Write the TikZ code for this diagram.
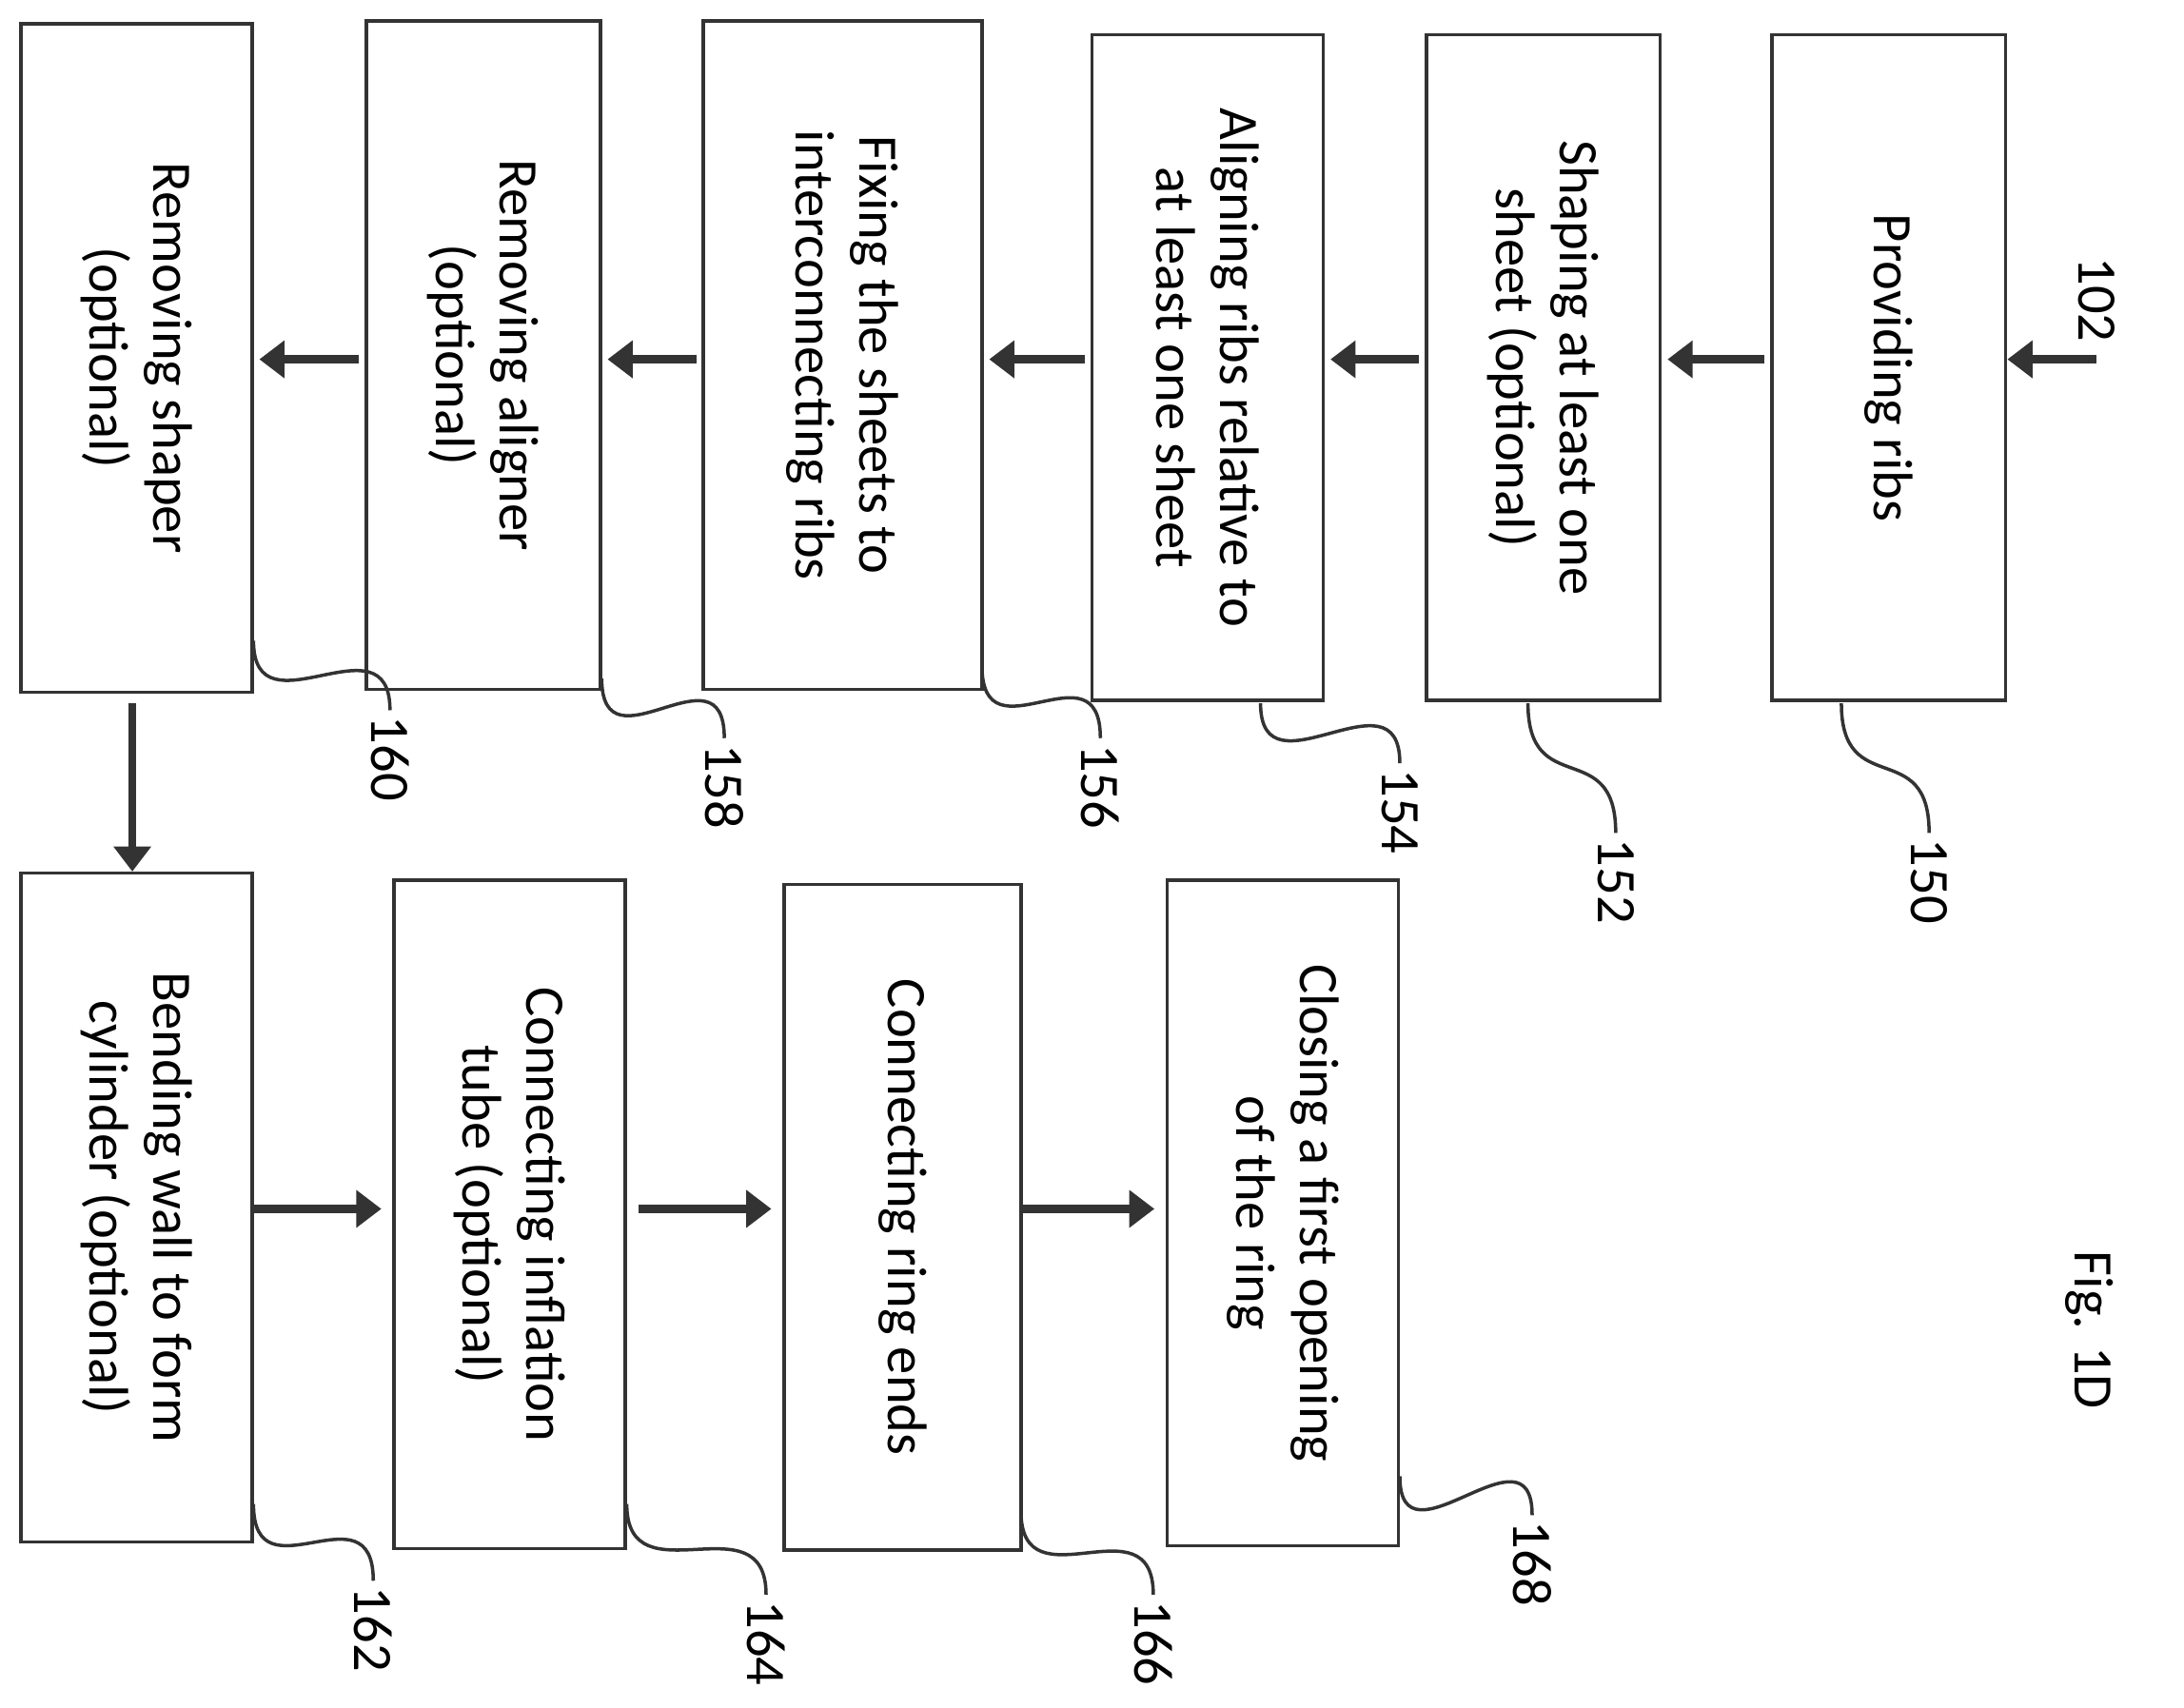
\documentclass[tikz,border=0pt]{standalone}
\usepackage{fontspec}
\setmainfont{Carlito}
\usetikzlibrary{arrows.meta,calc}
\definecolor{ink}{HTML}{333333}
\begin{document}
\begin{tikzpicture}[x=0.5pt,y=-0.5pt,
 box/.style={draw=ink,line width=1.2pt,rotate=-90,align=center,font=\fontsize{20}{23}\selectfont,inner sep=4pt},
 arr/.style={draw=ink,line width=3pt,-{Triangle[length=9pt,width=13pt]}},
 lead/.style={draw=ink,line width=1.2pt},
 num/.style={rotate=-90,anchor=west,font=\fontsize{20}{23}\selectfont,inner sep=2pt}]
\useasboundingbox (0,0) rectangle (1568,1226);
\node[box,minimum width=239pt,minimum height=84pt] (b150) at (1356,264) {Providing ribs};
\node[box,minimum width=239pt,minimum height=84pt] (b152) at (1108,264) {Shaping at least one\\sheet (optional)};
\node[box,minimum width=239pt,minimum height=83pt] (b154) at (867,264) {Aligning ribs relative to\\at least one sheet};
\node[box,minimum width=240pt,minimum height=100pt] (b156) at (605,255) {Fixing the sheets to\\interconnecting ribs};
\node[box,minimum width=240pt,minimum height=84pt] (b158) at (347,255) {Removing aligner\\(optional)};
\node[box,minimum width=240pt,minimum height=83pt] (b160) at (98,257) {Removing shaper\\(optional)};
\node[box,minimum width=240pt,minimum height=83pt] (b162) at (98,867) {Bending wall to form\\cylinder (optional)};
\node[box,minimum width=240pt,minimum height=83pt] (b164) at (366,872) {Connecting inflation\\tube (optional)};
\node[box,minimum width=239pt,minimum height=85pt] (b166) at (648,874) {Connecting ring ends};
\node[box,minimum width=239pt,minimum height=83pt] (b168) at (921,871) {Closing a first opening\\of the ring};
\coordinate (s102) at (1505,258);
\node[num,anchor=east] (n102) at (1505,250) {102};
\node[rotate=-90,font=\fontsize{20}{23}\selectfont] (fig) at (1500,955) {Fig. 1D};
\draw[arr] (s102) -- (b150.north|-s102);
\draw[arr] ([xshift=-2pt]b150.south|-s102) -- ([xshift=2pt]b152.north|-s102);
\draw[arr] ([xshift=-2pt]b152.south|-s102) -- ([xshift=2pt]b154.north|-s102);
\draw[arr] ([xshift=-2pt]b154.south|-s102) -- ([xshift=2pt]b156.north|-s102);
\draw[arr] ([xshift=-2pt]b156.south|-s102) -- ([xshift=2pt]b158.north|-s102);
\draw[arr] ([xshift=-2pt]b158.south|-s102) -- ([xshift=2pt]b160.north|-s102);
\coordinate (d1) at (95,505);
\draw[arr] (d1) -- (d1|-b162.west);
\coordinate (r) at (0,868);
\draw[arr] (b162.north|-r) -- ([xshift=-4pt]b164.south|-r);
\draw[arr] ([xshift=4pt]b164.north|-r) -- ([xshift=-4pt]b166.south|-r);
\draw[arr] (b166.north|-r) -- ([xshift=-4pt]b168.south|-r);
\newcommand{\myleader}[5]{%
 \coordinate (ls#5) at (#1,#2);
 \coordinate (le#5) at (#3,#4);
 \draw[lead] (ls#5) .. controls ($(ls#5)+(0,70)$) and ($(le#5)+(0,-70)$) .. (le#5);
 \node[num] (n#5) at (le#5) {#5};}
\myleader{1322}{505}{1385}{598}{150}
\myleader{1097}{505}{1160}{598}{152}
\myleader{905}{505}{1005}{548}{154}
\myleader{705}{478}{790}{530}{156}
\myleader{432}{487}{520}{530}{158}
\myleader{182}{460}{280}{510}{160}
\myleader{182}{1080}{268}{1135}{162}
\myleader{450}{1080}{550}{1145}{164}
\myleader{733}{1085}{828}{1145}{166}
\myleader{1005}{1060}{1100}{1088}{168}
\end{tikzpicture}
\end{document}
